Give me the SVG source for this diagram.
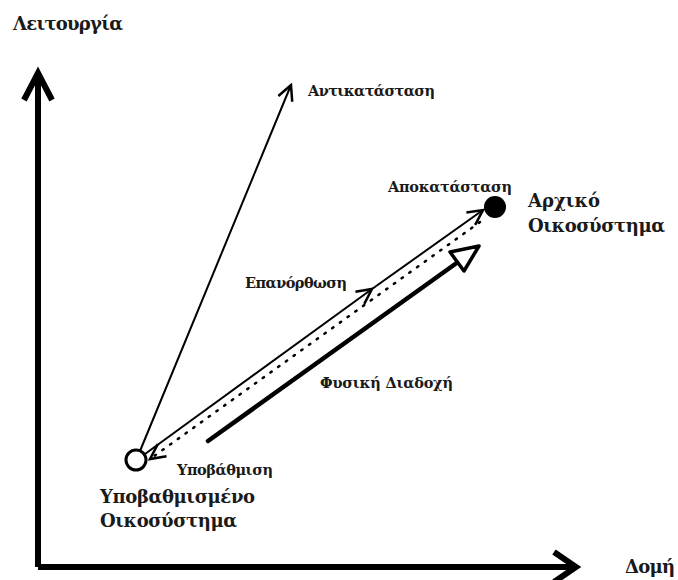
<svg xmlns="http://www.w3.org/2000/svg" width="678" height="580" viewBox="0 0 678 580">
<defs>
<style>
.lbl{font-family:"DejaVu Serif","Liberation Serif",serif;font-weight:bold;fill:#1a1a1a}
.sm{font-size:14.5px}
.lg{font-size:18px}
.thin{stroke:#000;stroke-width:2;fill:none}
.axis{stroke:#000;stroke-width:6;fill:none}
</style>
<marker id="chev" markerUnits="userSpaceOnUse" markerWidth="20" markerHeight="20" refX="14" refY="7" orient="auto" viewBox="0 0 16 14">
<path d="M2,1 L14,7 L2,13" fill="none" stroke="#000" stroke-width="2"/>
</marker>
</defs>
<rect width="678" height="580" fill="#fff"/>
<g id="axes">
<path class="axis" d="M38,567 L38,76 M24,100 L38,73 L52,100"/>
<path class="axis" d="M38,567 L574,567 M554,552 L576,567 L554,582"/>
</g>
<g id="connectors">
<line class="thin" x1="140" y1="451" x2="291" y2="85" marker-end="url(#chev)"/>
<line class="thin" x1="145" y1="454" x2="372" y2="289" marker-end="url(#chev)"/>
<line class="thin" x1="372" y1="289" x2="483" y2="210" marker-end="url(#chev)"/>
<line x1="480" y1="222" x2="150" y2="459" stroke="#000" stroke-width="2.5" stroke-dasharray="1.5 8" stroke-linecap="round" fill="none" marker-end="url(#chev)"/>
<g id="succession">
<line x1="208" y1="441" x2="458" y2="262" stroke="#000" stroke-width="4.5" stroke-linecap="round"/>
<polygon points="479,246 450,252 464,271" fill="#fff" stroke="#000" stroke-width="3.5" stroke-linejoin="round"/>
</g>
</g>
<g id="degraded">
<circle cx="136" cy="460" r="10" fill="#fff" stroke="#000" stroke-width="3"/>
<text class="lbl lg" x="100" y="503" textLength="155" lengthAdjust="spacing">Υποβαθμισμένο</text>
<text class="lbl lg" x="100" y="527" textLength="137" lengthAdjust="spacing">Οικοσύστημα</text>
</g>
<g id="original">
<circle cx="495" cy="207" r="11" fill="#000"/>
<text class="lbl lg" x="528" y="207">Αρχικό</text>
<text class="lbl lg" x="528" y="232" textLength="137" lengthAdjust="spacing">Οικοσύστημα</text>
</g>
<g id="labels">
<text class="lbl lg" x="13" y="30" textLength="110" lengthAdjust="spacing">Λειτουργία</text>
<text class="lbl lg" x="625" y="573" textLength="50" lengthAdjust="spacing">Δομή</text>
<text class="lbl sm" x="308" y="96" textLength="127" lengthAdjust="spacing">Αντικατάσταση</text>
<text class="lbl sm" x="388" y="192" textLength="124" lengthAdjust="spacing">Αποκατάσταση</text>
<text class="lbl sm" x="245" y="288" textLength="102" lengthAdjust="spacing">Επανόρθωση</text>
<text class="lbl sm" x="320" y="388" textLength="133" lengthAdjust="spacing">Φυσική Διαδοχή</text>
<text class="lbl sm" x="177" y="475" textLength="96" lengthAdjust="spacing">Υποβάθμιση</text>
</g>
</svg>
